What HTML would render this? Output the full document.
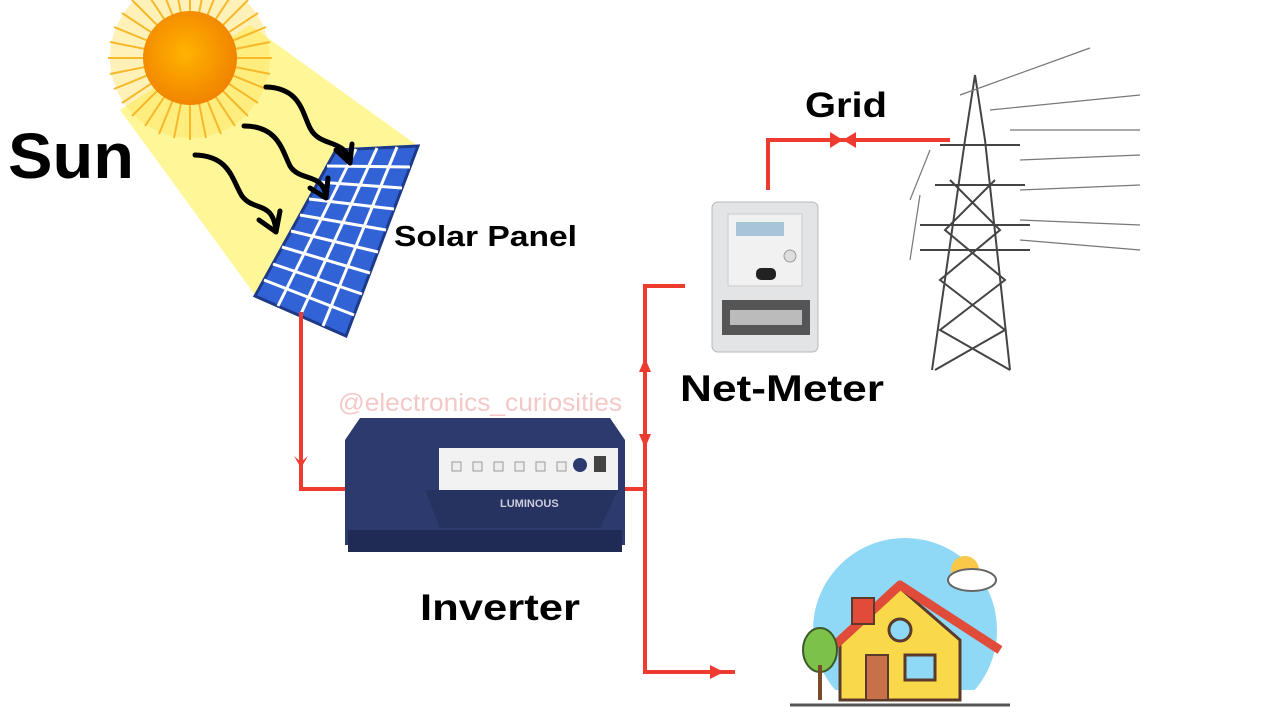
<!DOCTYPE html>
<html><head><meta charset="utf-8"><style>
body{margin:0;width:1280px;height:720px;background:#fff;overflow:hidden;font-family:"Liberation Sans",sans-serif}
svg{position:absolute;left:0;top:0}
</style></head><body>
<svg width="1280" height="720" viewBox="0 0 1280 720">
<defs>
<radialGradient id="sg" cx="0.45" cy="0.45" r="0.6"><stop offset="0" stop-color="#ffb300"/><stop offset="1" stop-color="#f08000"/></radialGradient>
</defs>
<polygon points="120,110 250,25 418,146 255,295" fill="#fff68c" opacity="0.9"/>
<g transform="translate(190,58)">
<circle r="80" fill="#ffe060" opacity="0.45"/>
<g stroke="#f7b82a" stroke-width="2">
<line x1="0" y1="-82" x2="0" y2="82"/><line x1="-82" y1="0" x2="82" y2="0"/>
<line x1="-58" y1="-58" x2="58" y2="58"/><line x1="58" y1="-58" x2="-58" y2="58"/>
<line x1="-31" y1="-76" x2="31" y2="76"/><line x1="31" y1="-76" x2="-31" y2="76"/>
<line x1="-76" y1="-31" x2="76" y2="31"/><line x1="76" y1="-31" x2="-76" y2="31"/>
<line x1="-16" y1="-80" x2="16" y2="80"/><line x1="16" y1="-80" x2="-16" y2="80"/>
<line x1="-80" y1="-16" x2="80" y2="16"/><line x1="80" y1="-16" x2="-80" y2="16"/>
<line x1="-45" y1="-68" x2="45" y2="68"/><line x1="45" y1="-68" x2="-45" y2="68"/>
<line x1="-68" y1="-45" x2="68" y2="45"/><line x1="68" y1="-45" x2="-68" y2="45"/>
</g>
<circle r="47" fill="url(#sg)"/>
</g>
<polygon points="336,150 418,146 346,336 255,296" fill="#3263d6" stroke="#1d3a8a" stroke-width="3"/>
<g stroke="#fff" stroke-width="3" fill="none">
<line x1="356" y1="149" x2="278" y2="306"/><line x1="377" y1="148" x2="300" y2="316"/><line x1="397" y1="147" x2="323" y2="326"/>
<line x1="327" y1="166" x2="410" y2="167"/><line x1="318" y1="182" x2="402" y2="188"/><line x1="309" y1="199" x2="394" y2="209"/>
<line x1="300" y1="215" x2="386" y2="230"/><line x1="291" y1="231" x2="378" y2="252"/><line x1="282" y1="247" x2="370" y2="273"/>
<line x1="273" y1="264" x2="362" y2="294"/><line x1="264" y1="280" x2="354" y2="315"/>
</g>
<g fill="none" stroke="#000" stroke-width="5" stroke-linecap="round" stroke-linejoin="round">
<path d="M266,87 C300,88 302,112 310,128 C320,148 345,138 350,162"/>
<path d="M336,150 L350,163 L352,144"/>
<path d="M244,126 C278,126 282,150 290,166 C300,182 322,172 326,196"/>
<path d="M310,188 L326,198 L328,178"/>
<path d="M195,155 C230,156 232,180 242,196 C254,212 272,200 276,230"/>
<path d="M259,220 L276,232 L280,211"/>
</g>
<text x="8" y="178" font-size="64" font-weight="bold" fill="#000" textLength="126" lengthAdjust="spacingAndGlyphs">Sun</text>
<text x="394" y="246" font-size="29" font-weight="bold" fill="#000" textLength="183" lengthAdjust="spacingAndGlyphs">Solar Panel</text>
<text x="338" y="411" font-size="25" fill="#f5c8c8" textLength="284" lengthAdjust="spacingAndGlyphs">@electronics_curiosities</text>
<g stroke="#ee3b30" stroke-width="4" fill="none">
<polyline points="301,312 301,489 345,489"/>
<polyline points="625,489 645,489"/>
<polyline points="685,286 645,286 645,672 735,672"/>
<polyline points="768,190 768,140 950,140"/>
</g>
<g fill="#ee3b30">
<polygon points="294,456 301,468 308,456 301,462"/>
<polygon points="639,372 645,358 651,372"/>
<polygon points="639,434 645,448 651,434"/>
<polygon points="710,665 724,672 710,679"/>
<polygon points="830,132 843,140 830,148"/><polygon points="856,132 843,140 856,148"/>
</g>
<path d="M345,440 L360,418 L610,418 L625,440 L625,545 L345,545 Z" fill="#2c3a6e"/>
<rect x="348" y="530" width="274" height="22" fill="#1f2a55"/>
<rect x="425" y="448" width="193" height="42" fill="#f2f2f2"/>
<rect x="425" y="448" width="14" height="42" fill="#2c3a6e"/>
<g fill="#eee" stroke="#999"><rect x="452" y="462" width="9" height="9"/><rect x="473" y="462" width="9" height="9"/><rect x="494" y="462" width="9" height="9"/><rect x="515" y="462" width="9" height="9"/><rect x="536" y="462" width="9" height="9"/><rect x="557" y="462" width="9" height="9"/></g>
<circle cx="580" cy="465" r="7" fill="#2c3a6e"/><rect x="594" y="456" width="12" height="16" fill="#444"/>
<path d="M425,490 L618,490 L600,528 L440,528 Z" fill="#26325f"/>
<text x="500" y="507" font-size="11" font-weight="bold" fill="#ccd">LUMINOUS</text>
<text x="420" y="620" font-size="37" font-weight="bold" fill="#000" textLength="160" lengthAdjust="spacingAndGlyphs">Inverter</text>
<rect x="712" y="202" width="106" height="150" rx="6" fill="#e3e4e6" stroke="#b8b8b8"/>
<rect x="728" y="214" width="74" height="72" fill="#f1f1f1" stroke="#ccc"/>
<rect x="736" y="222" width="48" height="14" fill="#a8c4d8"/>
<circle cx="790" cy="256" r="6" fill="#ddd" stroke="#999"/>
<rect x="756" y="268" width="20" height="12" rx="5" fill="#222"/>
<rect x="722" y="300" width="88" height="35" fill="#555"/>
<rect x="730" y="310" width="72" height="15" fill="#bbb"/>
<text x="680" y="401" font-size="37" font-weight="bold" fill="#000" textLength="204" lengthAdjust="spacingAndGlyphs">Net-Meter</text>
<text x="805" y="117" font-size="35" font-weight="bold" fill="#000" textLength="82" lengthAdjust="spacingAndGlyphs">Grid</text>
<g stroke="#444" stroke-width="2" fill="none">
<polyline points="932,370 965,140 975,75 985,140 1010,370"/>
<line x1="940" y1="145" x2="1020" y2="145"/><line x1="935" y1="185" x2="1025" y2="185"/>
<line x1="920" y1="225" x2="1030" y2="225"/><line x1="920" y1="250" x2="1030" y2="250"/>
<path d="M950,180 L1000,230 L940,280 L1005,330 L935,370 M995,180 L945,230 L1005,280 L940,330 L1010,370"/>
</g>
<g stroke="#777" stroke-width="1.2">
<line x1="960" y1="95" x2="1090" y2="48"/><line x1="990" y1="110" x2="1140" y2="95"/>
<line x1="1010" y1="130" x2="1140" y2="130"/><line x1="1020" y1="160" x2="1140" y2="155"/>
<line x1="1020" y1="190" x2="1140" y2="185"/><line x1="1020" y1="220" x2="1140" y2="225"/>
<line x1="1020" y1="240" x2="1140" y2="250"/><line x1="930" y1="150" x2="910" y2="200"/><line x1="920" y1="195" x2="910" y2="260"/>
</g>
<circle cx="905" cy="630" r="92" fill="#8fd8f6"/>
<rect x="790" y="690" width="230" height="30" fill="#fff"/>
<line x1="790" y1="705" x2="1010" y2="705" stroke="#555" stroke-width="3"/>
<polygon points="840,640 900,588 960,640 960,700 840,700" fill="#f9d949" stroke="#5a3a2a" stroke-width="3"/>
<polyline points="835,645 900,585 1000,650" fill="none" stroke="#e04b3a" stroke-width="9" stroke-linejoin="round"/>
<rect x="852" y="598" width="22" height="26" fill="#e04b3a" stroke="#5a3a2a" stroke-width="2"/>
<circle cx="900" cy="630" r="11" fill="#8fd8f6" stroke="#5a3a2a" stroke-width="3"/>
<rect x="866" y="655" width="22" height="45" fill="#c8704a" stroke="#5a3a2a" stroke-width="2"/>
<rect x="905" y="655" width="30" height="25" fill="#8fd8f6" stroke="#5a3a2a" stroke-width="3"/>
<ellipse cx="820" cy="650" rx="17" ry="22" fill="#7cc24a" stroke="#3a5a2a" stroke-width="2"/>
<line x1="820" y1="665" x2="820" y2="700" stroke="#7a4a2a" stroke-width="4"/>
<circle cx="965" cy="570" r="14" fill="#f9c848"/>
<ellipse cx="972" cy="580" rx="24" ry="11" fill="#fff" stroke="#666" stroke-width="2"/>
</svg>
</body></html>
